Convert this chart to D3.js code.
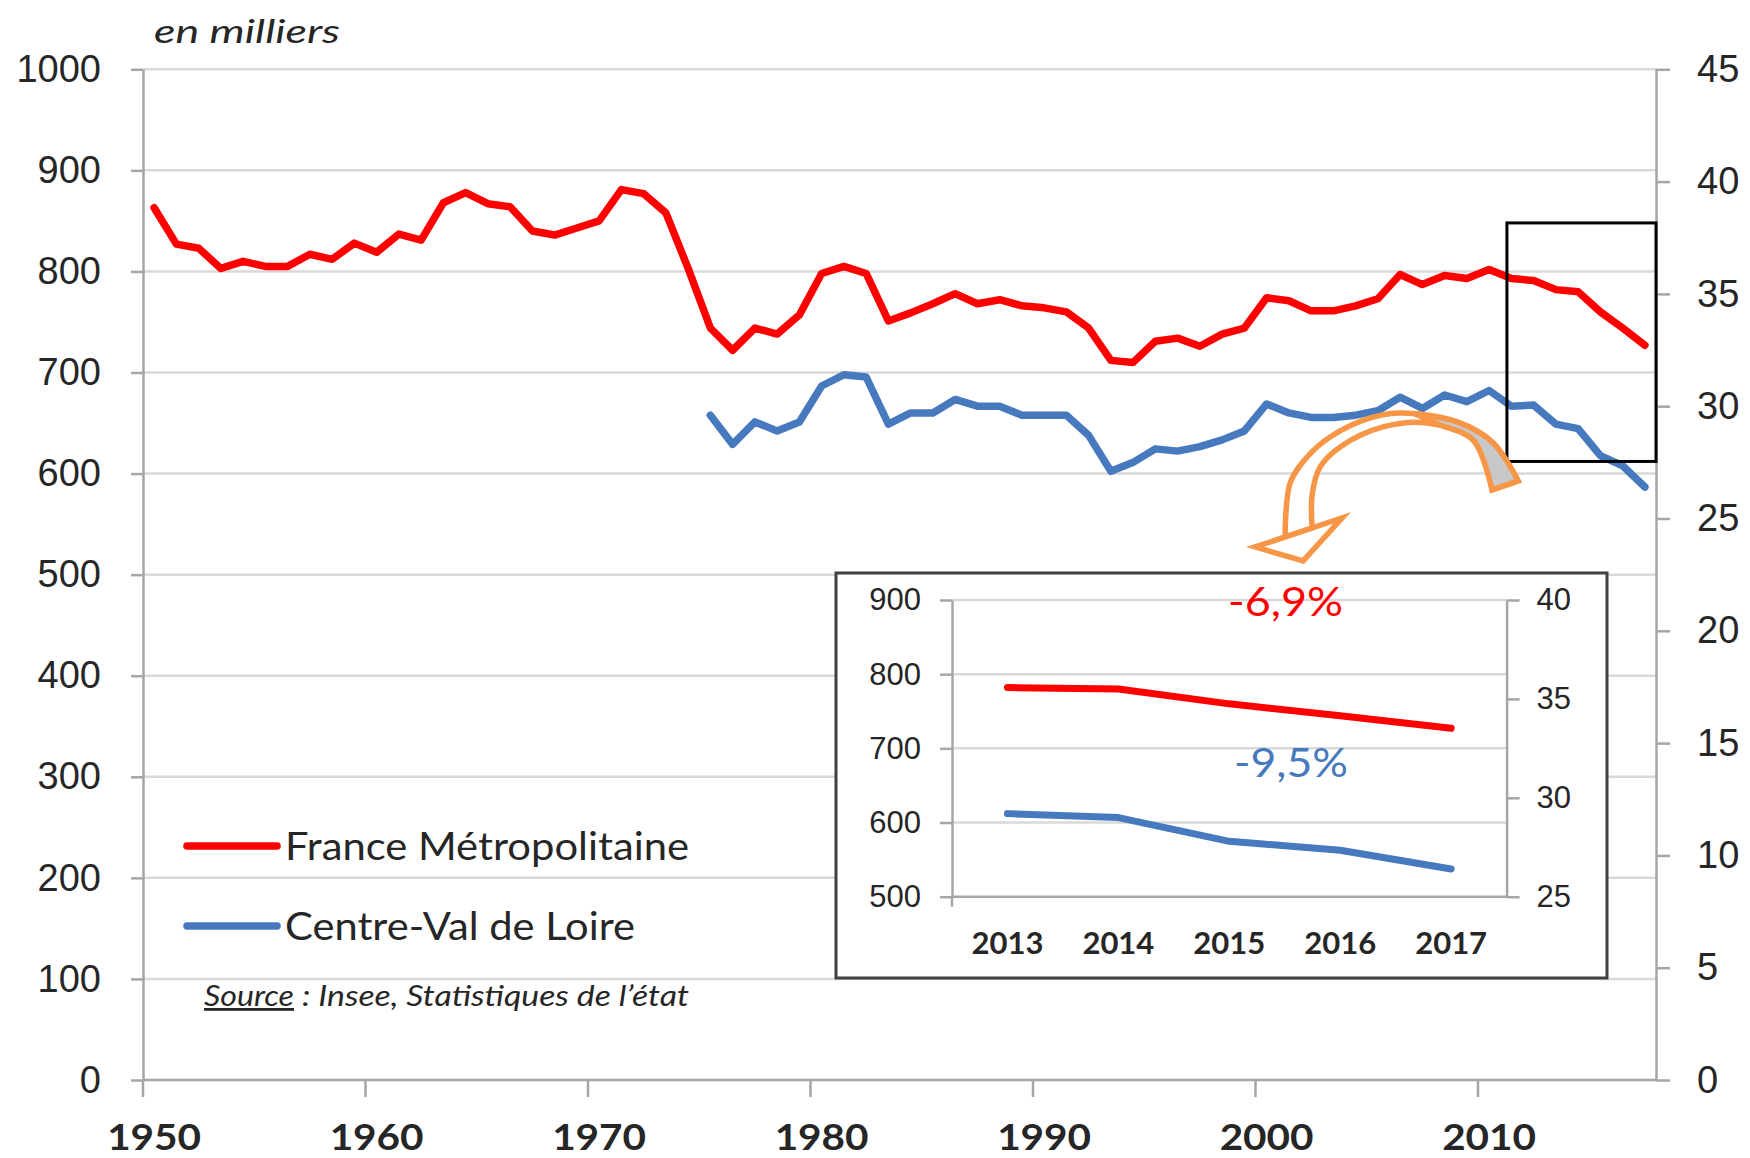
<!DOCTYPE html>
<html>
<head>
<meta charset="utf-8">
<script src="https://cdn.jsdelivr.net/npm/d3@7"></script>
<style>
  body { margin: 0; background: #fff; }
  svg { display: block; font-family: Lato, "Open Sans", sans-serif; }
</style>
</head>
<body>
<div id="chart"></div>
<script>
// Data (en milliers)
const years = d3.range(1950, 2018);
const franceMetro = [
  863, 827, 823, 803, 810, 805, 805, 817, 812, 828,
  819, 837, 831, 868, 878, 867, 864, 840, 836, 843,
  850, 881, 877, 858, 803, 744, 722, 744, 738, 757,
  798, 805, 798, 751, 759, 768, 778, 768, 772, 766,
  764, 760, 744, 712, 710, 731, 734, 726, 738, 744,
  774, 771, 761, 761, 766, 773, 797, 787, 796, 793,
  802, 793, 791, 782, 780, 760, 744, 727
];
// Centre-Val de Loire, plotted on the right axis, from 1975
const centreStart = 1975;
const centreVdl = [
  29.6, 28.3, 29.3, 28.9, 29.3, 30.9, 31.4, 31.3, 29.2, 29.7,
  29.7, 30.3, 30.0, 30.0, 29.6, 29.6, 29.6, 28.7, 27.1, 27.5,
  28.1, 28.0, 28.2, 28.5, 28.9, 30.1, 29.7, 29.5, 29.5, 29.6,
  29.8, 30.4, 29.9, 30.5, 30.2, 30.7, 30.0, 30.05, 29.2, 29.0,
  27.8, 27.35, 26.4
];
const leftTicks = [0, 100, 200, 300, 400, 500, 600, 700, 800, 900, 1000];
const rightTicks = [0, 5, 10, 15, 20, 25, 30, 35, 40, 45];
const decades = [1950, 1960, 1970, 1980, 1990, 2000, 2010];
const insetYears = [2013, 2014, 2015, 2016, 2017];
const insetLeftTicks = [500, 600, 700, 800, 900];
const insetRightTicks = [25, 30, 35, 40];

const RED = "#ff0000", BLUE = "#4679bd", ORANGE = "#f79646";
const TEXT = "#262626", GRID = "#d9d9d9", AXIS = "#a6a6a6";

const width = 1750, height = 1158;
const svg = d3.select("#chart").append("svg")
    .attr("width", width).attr("height", height);

// stretch a text to the width it has in the original
const fit = (sel, w) => sel.attr("textLength", w).attr("lengthAdjust", "spacingAndGlyphs");

// Main chart
const plot = { left: 143, right: 1656, top: 69.3, bottom: 1080 };
const x = d3.scaleBand().domain(years).range([plot.left, plot.right]);
const xc = d => x(d) + x.bandwidth() / 2;
const yL = d3.scaleLinear().domain([0, 1000]).range([plot.bottom, plot.top]);
const yR = d3.scaleLinear().domain([0, 45]).range([plot.bottom, plot.top]);

svg.append("g").selectAll("line").data(leftTicks.filter(d => d > 0)).join("line")
    .attr("x1", plot.left).attr("x2", plot.right)
    .attr("y1", d => yL(d)).attr("y2", d => yL(d))
    .attr("stroke", GRID).attr("stroke-width", 2.5);

function styleAxis(g, size) {
  g.select(".domain").attr("stroke", AXIS).attr("stroke-width", 2.5);
  g.selectAll(".tick line").attr("stroke", AXIS).attr("stroke-width", 2.5);
  g.selectAll("text").attr("fill", TEXT).style("font-size", size + "px");
}

svg.append("g").attr("transform", `translate(${plot.left},0)`)
    .call(d3.axisLeft(yL).tickValues(leftTicks).tickFormat(d3.format("d"))
      .tickSize(12).tickSizeOuter(0).tickPadding(30))
    .call(g => styleAxis(g, 38));

svg.append("g").attr("transform", `translate(${plot.right},0)`)
    .call(d3.axisRight(yR).tickValues(rightTicks).tickFormat(d3.format("d"))
      .tickSize(14).tickSizeOuter(0).tickPadding(27))
    .call(g => styleAxis(g, 38));

// bottom axis: ticks between categories, labels centred on the year
const xAxis = svg.append("g");
xAxis.append("line")
    .attr("x1", plot.left).attr("x2", plot.right)
    .attr("y1", plot.bottom).attr("y2", plot.bottom)
    .attr("stroke", AXIS).attr("stroke-width", 2.5);
xAxis.selectAll(".tk").data(decades).join("line").attr("class", "tk")
    .attr("x1", d => x(d)).attr("x2", d => x(d))
    .attr("y1", plot.bottom).attr("y2", plot.bottom + 17)
    .attr("stroke", AXIS).attr("stroke-width", 2.5);
xAxis.selectAll("text").data(decades).join("text")
    .attr("x", d => xc(d) - 47).attr("y", 1150)
    .attr("fill", TEXT)
    .style("font-size", "36px").style("font-weight", "bold")
    .text(d => d)
    .call(fit, 94);

const redPts = years.map((y, i) => ({ year: y, v: franceMetro[i] }));
const bluePts = centreVdl.map((v, i) => ({ year: centreStart + i, v }));

svg.append("path").datum(redPts)
    .attr("fill", "none").attr("stroke", RED).attr("stroke-width", 7.5)
    .attr("stroke-linejoin", "round").attr("stroke-linecap", "round")
    .attr("d", d3.line().x(d => xc(d.year)).y(d => yL(d.v)));

svg.append("path").datum(bluePts)
    .attr("fill", "none").attr("stroke", BLUE).attr("stroke-width", 7.5)
    .attr("stroke-linejoin", "round").attr("stroke-linecap", "round")
    .attr("d", d3.line().x(d => xc(d.year)).y(d => yR(d.v)));

// frame around the last years
const boxLeft = x(2011) + x.bandwidth() * 0.3;
svg.append("rect")
    .attr("x", boxLeft).attr("y", yL(848))
    .attr("width", plot.right - boxLeft).attr("height", yL(612) - yL(848))
    .attr("fill", "none").attr("stroke", "#000").attr("stroke-width", 3);

// title and notes
svg.append("text").attr("x", 154).attr("y", 43)
    .attr("fill", TEXT).style("font-size", "33px").style("font-style", "italic")
    .text("en milliers")
    .call(fit, 186);

const legend = [
  { name: "France Métropolitaine", color: RED, y: 846, w: 404 },
  { name: "Centre-Val de Loire", color: BLUE, y: 926, w: 350 }
];
const lg = svg.append("g");
lg.selectAll("line").data(legend).join("line")
    .attr("x1", 187).attr("x2", 277).attr("y1", d => d.y).attr("y2", d => d.y)
    .attr("stroke", d => d.color).attr("stroke-width", 7.5).attr("stroke-linecap", "round");
lg.selectAll("text").data(legend).join("text")
    .attr("x", 285).attr("y", d => d.y + 14)
    .attr("fill", TEXT).style("font-size", "38px")
    .attr("textLength", d => d.w).attr("lengthAdjust", "spacingAndGlyphs")
    .text(d => d.name);

svg.append("text").attr("x", 204).attr("y", 1006)
    .attr("fill", TEXT).style("font-size", "28px").style("font-style", "italic")
    .style("text-decoration", "underline")
    .text("Source")
    .call(fit, 90);
svg.append("text").attr("x", 294).attr("y", 1006)
    .attr("fill", TEXT).style("font-size", "28px").style("font-style", "italic")
    .style("white-space", "pre")
    .text(" : Insee, Statistiques de l’état")
    .call(fit, 395);

// curved orange arrow, drawn relative to an anchor on the scales
const arrow = svg.append("g").attr("transform", `translate(${xc(2006)},${yL(660)})`);
const smooth = d3.line().curve(d3.curveCatmullRom);
const outer = [[-115, 124], [-110, 70], [-93, 44], [-70, 24], [-30, 5], [0, 0], [57, 9], [93, 30], [118, 68]];
const inner = [[92, 77], [73, 27], [27, 10], [-17, 14], [-60, 34], [-80, 54], [-88, 82], [-88, 115]];
const head = "L-145,134L-97,148L-58,105";
arrow.append("path")
    .attr("d", smooth(outer) + "L" + smooth(inner).slice(1) + head + "Z")
    .attr("fill", "#fff").attr("stroke", ORANGE).attr("stroke-width", 5.5).attr("stroke-linejoin", "miter");
const grayOuter = [[15, 1], [57, 9], [93, 30], [118, 68]];
const grayInner = [[92, 77], [73, 27], [40, 12], [15, 1]];
arrow.append("path")
    .attr("d", smooth(grayOuter) + "L" + smooth(grayInner).slice(1) + "Z")
    .attr("fill", "#c8c8c8").attr("stroke", ORANGE).attr("stroke-width", 5.5);

// Inset: zoom on 2013-2017
const ib = { left: 836, top: 573, right: 1607, bottom: 978 };
const ip = { left: 952, right: 1506.6, top: 600, bottom: 896.7 };
const inset = svg.append("g");
inset.append("rect")
    .attr("x", ib.left).attr("y", ib.top)
    .attr("width", ib.right - ib.left).attr("height", ib.bottom - ib.top)
    .attr("fill", "#fff").attr("stroke", "#404040").attr("stroke-width", 3);

const xi = d3.scaleBand().domain(insetYears).range([ip.left, ip.right]);
const xic = d => xi(d) + xi.bandwidth() / 2;
const yi = d3.scaleLinear().domain([500, 900]).range([ip.bottom, ip.top]);
const yiR = d3.scaleLinear().domain([25, 40]).range([ip.bottom, ip.top]);

inset.append("g").selectAll("line").data(insetLeftTicks.filter(d => d > 500)).join("line")
    .attr("x1", ip.left).attr("x2", ip.right)
    .attr("y1", d => yi(d)).attr("y2", d => yi(d))
    .attr("stroke", GRID).attr("stroke-width", 2.5);

inset.append("g").attr("transform", `translate(${ip.left},0)`)
    .call(d3.axisLeft(yi).tickValues(insetLeftTicks).tickSize(12).tickSizeOuter(0).tickPadding(19))
    .call(g => styleAxis(g, 31));
inset.append("g").attr("transform", `translate(${ip.right},0)`)
    .call(d3.axisRight(yiR).tickValues(insetRightTicks).tickSize(13).tickSizeOuter(0).tickPadding(17))
    .call(g => styleAxis(g, 31));
inset.append("line")
    .attr("x1", ip.left).attr("x2", ip.right)
    .attr("y1", ip.bottom).attr("y2", ip.bottom)
    .attr("stroke", AXIS).attr("stroke-width", 2.5);
inset.append("line")
    .attr("x1", ip.left).attr("x2", ip.left)
    .attr("y1", ip.bottom).attr("y2", ip.bottom + 10)
    .attr("stroke", AXIS).attr("stroke-width", 2.5);
inset.append("g").selectAll("text").data(insetYears).join("text")
    .attr("x", d => xic(d)).attr("y", 954)
    .attr("text-anchor", "middle").attr("fill", TEXT)
    .style("font-size", "31px").style("font-weight", "bold")
    .text(d => d);

const insetRed = insetYears.map(y => ({ year: y, v: franceMetro[years.indexOf(y)] }));
const insetBlue = insetYears.map(y => ({ year: y, v: centreVdl[y - centreStart] }));
inset.append("path").datum(insetRed)
    .attr("fill", "none").attr("stroke", RED).attr("stroke-width", 7)
    .attr("stroke-linejoin", "round").attr("stroke-linecap", "round")
    .attr("d", d3.line().x(d => xic(d.year)).y(d => yi(d.v)));
inset.append("path").datum(insetBlue)
    .attr("fill", "none").attr("stroke", BLUE).attr("stroke-width", 7)
    .attr("stroke-linejoin", "round").attr("stroke-linecap", "round")
    .attr("d", d3.line().x(d => xic(d.year)).y(d => yiR(d.v)));

inset.append("text").attr("x", 1228).attr("y", 616)
    .attr("fill", RED).style("font-size", "40px")
    .text("-6,9%")
    .call(fit, 115);
inset.append("text").attr("x", 1234).attr("y", 777)
    .attr("fill", BLUE).style("font-size", "40px")
    .text("-9,5%")
    .call(fit, 114);
</script>
</body>
</html>
